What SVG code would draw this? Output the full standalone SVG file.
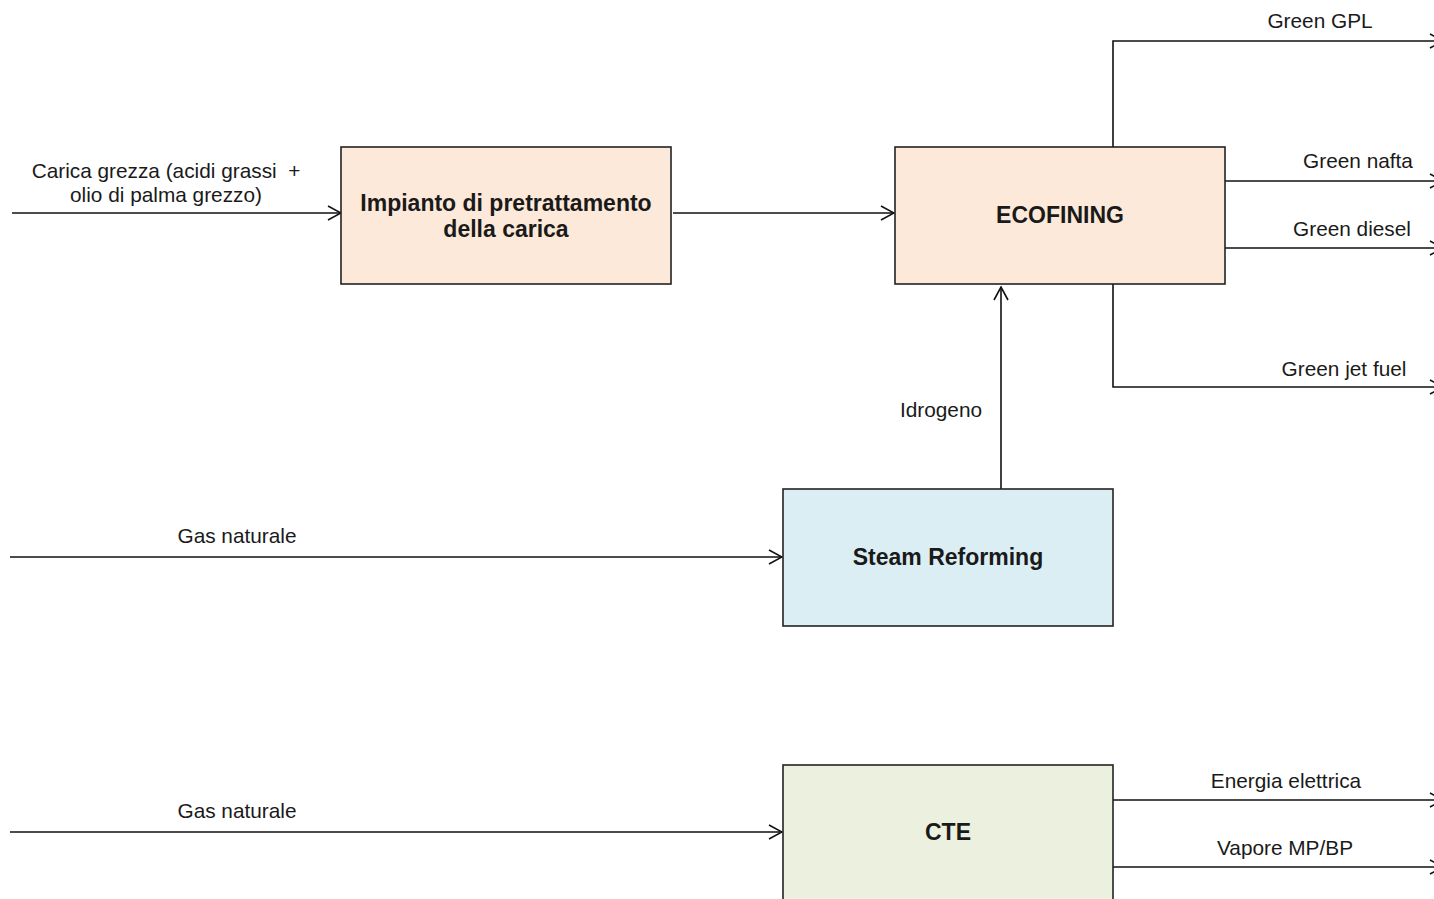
<svg xmlns="http://www.w3.org/2000/svg" width="1434" height="899" viewBox="0 0 1434 899">
<style>
.box{stroke:#222;stroke-width:1.6}
.peach{fill:#fde9d9}
.blue{fill:#dbeef4}
.green{fill:#ebf1de}
.title{font-family:"Liberation Sans",Arial,sans-serif;font-weight:bold;font-size:23px;fill:#1a1a1a;text-anchor:middle}
.lbl{font-family:"Liberation Sans",Arial,sans-serif;font-size:20.8px;fill:#1a1a1a;text-anchor:middle}
.line{fill:none;stroke:#111;stroke-width:1.6}
</style>
<defs>
<marker id="arr" viewBox="0 0 16 16" refX="15" refY="8" markerWidth="16" markerHeight="16" markerUnits="userSpaceOnUse" orient="auto">
<path d="M2,1 L15,8 L2,15" fill="none" stroke="#111" stroke-width="1.6"/>
</marker>
</defs>
<rect width="1434" height="899" fill="#fff"/>
<g id="connectors">
<line class="line" x1="12" y1="213" x2="341" y2="213" marker-end="url(#arr)"/>
<line class="line" x1="673" y1="213" x2="894" y2="213" marker-end="url(#arr)"/>
<line class="line" x1="10" y1="557" x2="782" y2="557" marker-end="url(#arr)"/>
<line class="line" x1="10" y1="832" x2="782" y2="832" marker-end="url(#arr)"/>
<line class="line" x1="1001" y1="489" x2="1001" y2="287" marker-end="url(#arr)"/>
<polyline class="line" points="1113,147 1113,41 1443,41" marker-end="url(#arr)"/>
<line class="line" x1="1225" y1="181" x2="1443" y2="181" marker-end="url(#arr)"/>
<line class="line" x1="1225" y1="248" x2="1443" y2="248" marker-end="url(#arr)"/>
<polyline class="line" points="1113,284 1113,387 1443,387" marker-end="url(#arr)"/>
<line class="line" x1="1113" y1="800" x2="1443" y2="800" marker-end="url(#arr)"/>
<line class="line" x1="1113" y1="867" x2="1443" y2="867" marker-end="url(#arr)"/>
<text class="lbl" x="166" y="178" xml:space="preserve">Carica grezza (acidi grassi  +</text>
<text class="lbl" x="166" y="202">olio di palma grezzo)</text>
<text class="lbl" x="237" y="543">Gas naturale</text>
<text class="lbl" x="237" y="818">Gas naturale</text>
<text class="lbl" x="941" y="417">Idrogeno</text>
<text class="lbl" x="1320" y="28">Green GPL</text>
<text class="lbl" x="1358" y="168">Green nafta</text>
<text class="lbl" x="1352" y="236">Green diesel</text>
<text class="lbl" x="1344" y="376">Green jet fuel</text>
<text class="lbl" x="1286" y="788">Energia elettrica</text>
<text class="lbl" x="1285" y="855">Vapore MP/BP</text>
</g>
<g id="pretrattamento">
<rect class="box peach" x="341" y="147" width="330" height="137"/>
<text class="title" x="506" y="211">Impianto di pretrattamento</text>
<text class="title" x="506" y="237">della carica</text>
</g>
<g id="ecofining">
<rect class="box peach" x="895" y="147" width="330" height="137"/>
<text class="title" x="1060" y="223">ECOFINING</text>
</g>
<g id="steam-reforming">
<rect class="box blue" x="783" y="489" width="330" height="137"/>
<text class="title" x="948" y="565">Steam Reforming</text>
</g>
<g id="cte">
<rect class="box green" x="783" y="765" width="330" height="150"/>
<text class="title" x="948" y="840">CTE</text>
</g>
</svg>
